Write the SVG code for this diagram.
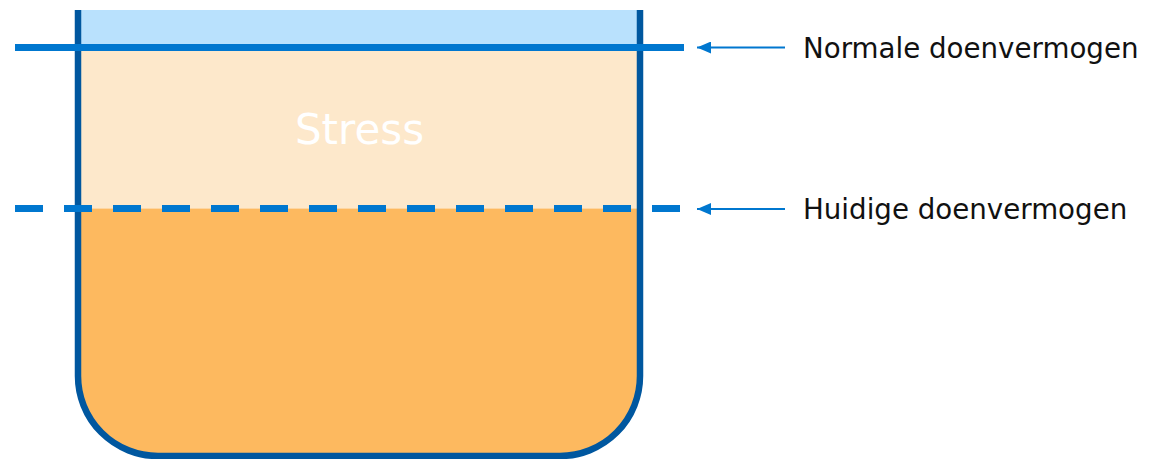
<svg xmlns="http://www.w3.org/2000/svg" width="1151" height="459" viewBox="0 0 1151 459">
<style>
.lbl{font-family:"DejaVu Sans",Verdana,sans-serif;font-size:27.7px;fill:#111}
.lvl{stroke:#0077cf;stroke-width:7;fill:none}
.ptr{stroke:#0077cf;stroke-width:2;fill:none}
</style>
<defs>
<clipPath id="tankClip"><path d="M78,10 V376 A80,80 0 0 0 158,456 H560 A80,80 0 0 0 640,376 V10 Z"/></clipPath>
<marker id="ah" viewBox="0 0 14 12" refX="14" refY="6" markerWidth="14" markerHeight="12" markerUnits="userSpaceOnUse" orient="auto">
<path d="M0,0 L14,6 L0,12 Z" fill="#0077cf"/>
</marker>
</defs>
<g id="tank">
<g clip-path="url(#tankClip)">
<rect x="70" y="10" width="580" height="37.5" fill="#b9e1fd"/>
<rect x="70" y="47.5" width="580" height="161" fill="#fde8cb"/>
<rect x="70" y="208.5" width="580" height="260" fill="#fdb95f"/>
</g>
<path d="M78,10 V376 A80,80 0 0 0 158,456 H560 A80,80 0 0 0 640,376 V10" fill="none" stroke="#00579f" stroke-width="6.5"/>
<text x="359.5" y="144" text-anchor="middle" font-family="DejaVu Sans, Verdana, sans-serif" font-size="42" fill="#ffffff">Stress</text>
</g>
<g id="connectors">
<line class="lvl" x1="15" y1="47.5" x2="684" y2="47.5"/>
<line class="lvl" x1="15" y1="208.5" x2="681" y2="208.5" stroke-dasharray="28 21"/>
<line class="ptr" x1="785" y1="47.5" x2="697" y2="47.5" marker-end="url(#ah)"/>
<line class="ptr" x1="785" y1="209" x2="697" y2="209" marker-end="url(#ah)"/>
</g>
<g id="label-normaal"><text class="lbl" x="803" y="58">Normale doenvermogen</text></g>
<g id="label-huidig"><text class="lbl" x="803" y="219">Huidige doenvermogen</text></g>
</svg>
